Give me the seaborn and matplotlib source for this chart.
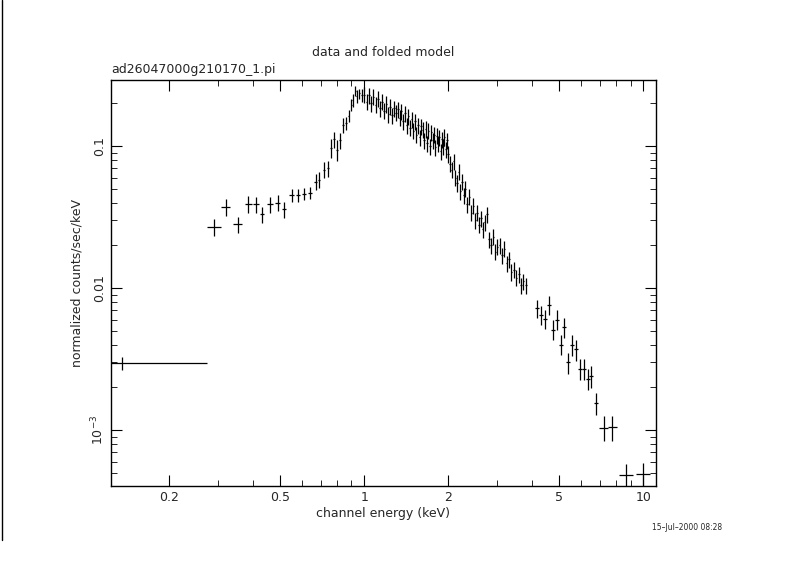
import matplotlib
matplotlib.use("Agg")
import matplotlib.pyplot as plt
import matplotlib.ticker as mticker
import seaborn as sns
import numpy as np

# sparse low-energy bins: energy, value, x half width, relative y error
low_e = [0.29, 0.32, 0.353, 0.385, 0.41, 0.43, 0.46, 0.49, 0.516, 0.55, 0.58, 0.61,
         0.64, 0.67, 0.69, 0.72, 0.74, 0.76, 0.78, 0.80, 0.82, 0.84, 0.86, 0.88,
         0.90, 0.91, 0.93, 0.94, 0.96, 0.98]
low_y = [0.0269, 0.0372, 0.0282, 0.0391, 0.039, 0.0332, 0.039, 0.040, 0.036, 0.045,
         0.045, 0.046, 0.047, 0.056, 0.058, 0.068, 0.070, 0.097, 0.112, 0.094, 0.110,
         0.140, 0.145, 0.163, 0.195, 0.21, 0.245, 0.225, 0.235, 0.228]
low_dx = [0.017, 0.012, 0.013, 0.012, 0.01, 0.008, 0.01, 0.01, 0.01, 0.01, 0.01,
          0.01, 0.01, 0.008, 0.007, 0.007, 0.006, 0.006, 0.006, 0.006, 0.005, 0.005,
          0.005, 0.005, 0.005, 0.005, 0.005, 0.005, 0.005, 0.005]
low_ry = [0.14, 0.14, 0.13, 0.13, 0.13, 0.13, 0.13, 0.13, 0.13, 0.1, 0.1, 0.1, 0.1,
          0.13, 0.13, 0.13, 0.13, 0.15, 0.13, 0.17, 0.13, 0.12, 0.1, 0.1, 0.1, 0.1,
          0.08, 0.1, 0.08, 0.1]

# dense middle bins
mid_e = [1.00, 1.02, 1.04, 1.06, 1.08, 1.10, 1.12, 1.14, 1.16, 1.18, 1.20, 1.22,
         1.24, 1.26, 1.28, 1.30, 1.32, 1.34, 1.36, 1.38, 1.40, 1.42, 1.44, 1.46,
         1.48, 1.50, 1.52, 1.54, 1.56, 1.58, 1.60, 1.62, 1.64, 1.66, 1.68, 1.70,
         1.72, 1.74, 1.76, 1.78, 1.80, 1.82, 1.84, 1.86, 1.88, 1.90, 1.92, 1.94,
         1.96, 1.98, 2.00, 2.03, 2.06, 2.09, 2.12, 2.15, 2.18, 2.21, 2.24, 2.27,
         2.30, 2.34, 2.38, 2.42, 2.46, 2.50, 2.54, 2.58, 2.62, 2.66, 2.70, 2.75,
         2.80, 2.85, 2.90, 2.95, 3.00, 3.06, 3.12, 3.18, 3.24, 3.30, 3.37, 3.44,
         3.51, 3.58, 3.65, 3.72, 3.80]
mid_y = [0.230, 0.205, 0.228, 0.200, 0.222, 0.195, 0.215, 0.185, 0.205, 0.178,
         0.198, 0.168, 0.190, 0.165, 0.185, 0.172, 0.182, 0.158, 0.176, 0.150,
         0.170, 0.140, 0.162, 0.135, 0.155, 0.128, 0.150, 0.120, 0.140, 0.115,
         0.138, 0.130, 0.110, 0.132, 0.105, 0.128, 0.100, 0.125, 0.110, 0.120,
         0.098, 0.118, 0.105, 0.115, 0.092, 0.112, 0.100, 0.116, 0.095, 0.110,
         0.088, 0.075, 0.068, 0.078, 0.060, 0.055, 0.066, 0.048, 0.056, 0.045,
         0.050, 0.039, 0.044, 0.034, 0.038, 0.030, 0.034, 0.028, 0.031, 0.026,
         0.029, 0.033, 0.022, 0.020, 0.023, 0.018, 0.0195, 0.020, 0.017, 0.019,
         0.015, 0.016, 0.013, 0.0135, 0.0118, 0.0125, 0.0105, 0.0112, 0.0105]

# sparse high-energy bins
high_e = [4.17, 4.3, 4.45, 4.6, 4.75, 4.9, 5.08, 5.2, 5.38, 5.55, 5.75, 5.95, 6.15,
          6.35, 6.5, 6.78, 7.2, 7.75, 8.7, 10.0]
high_y = [0.0072, 0.0065, 0.0061, 0.0076, 0.0051, 0.0060, 0.0040, 0.0053, 0.0030,
          0.0040, 0.0037, 0.0027, 0.0027, 0.0023, 0.0024, 0.00155, 0.00104, 0.00105,
          0.00048, 0.00049]
high_dx = [0.07, 0.07, 0.07, 0.07, 0.07, 0.08, 0.08, 0.08, 0.09, 0.09, 0.1, 0.1,
           0.1, 0.1, 0.1, 0.12, 0.25, 0.3, 0.5, 0.6]
high_ry = [0.14, 0.15, 0.15, 0.15, 0.16, 0.16, 0.16, 0.16, 0.17, 0.17, 0.17, 0.17,
           0.17, 0.17, 0.17, 0.18, 0.2, 0.2, 0.2, 0.2]

# first wide bin
first_e = 0.136
first_lo = 0.124
first_hi = 0.274
first_y = 0.00296

sns.set_style("ticks")
plt.rcParams['font.family'] = ['DejaVu Sans']
fig = plt.figure(figsize=(7.9, 5.82), dpi=100)
ax = fig.add_axes([111 / 790, 1 - 486 / 582, (656 - 111) / 790, (486 - 80) / 582])

kw = dict(fmt='none', ecolor='black', elinewidth=0.9, capsize=0)
ax.errorbar([first_e], [first_y], xerr=[[first_e - first_lo], [first_hi - first_e]],
            yerr=[[first_y * 0.1], [first_y * 0.1]], **kw)
e = np.array(low_e)
y = np.array(low_y)
ax.errorbar(e, y, xerr=np.array(low_dx), yerr=y * np.array(low_ry), **kw)
e = np.array(mid_e)
y = np.array(mid_y)
ax.errorbar(e, y, xerr=e * 0.006, yerr=y * 0.13, **kw)
e = np.array(high_e)
y = np.array(high_y)
ax.errorbar(e, y, xerr=np.array(high_dx), yerr=y * np.array(high_ry), **kw)

ax.set_xscale('log')
ax.set_yscale('log')
ax.set_xlim(0.124, 11.1)
ax.set_ylim(4.04e-4, 0.292)
ax.xaxis.set_major_locator(mticker.FixedLocator([0.2, 0.5, 1, 2, 5, 10]))
ax.xaxis.set_major_formatter(mticker.FixedFormatter(['0.2', '0.5', '1', '2', '5', '10']))
ax.xaxis.set_minor_locator(mticker.LogLocator(subs=np.arange(2, 10)))
ax.xaxis.set_minor_formatter(mticker.NullFormatter())
ax.yaxis.set_major_locator(mticker.FixedLocator([1e-3, 0.01, 0.1]))
ax.yaxis.set_major_formatter(mticker.FixedFormatter(['$10^{-3}$', '0.01', '0.1']))
ax.yaxis.set_minor_locator(mticker.LogLocator(subs=np.arange(2, 10)))
ax.yaxis.set_minor_formatter(mticker.NullFormatter())
ax.tick_params(which='both', direction='in', top=True, right=True, color='black', labelsize=9)
ax.tick_params(which='major', length=8)
ax.tick_params(which='minor', length=4)
for lab in ax.get_yticklabels():
    lab.set_rotation(90)
    lab.set_va('center')
for s in ax.spines.values():
    s.set_color('black')
    s.set_linewidth(1)

ax.set_xlabel('channel energy (keV)', fontsize=9, labelpad=2)
ax.set_ylabel('normalized counts/sec/keV', fontsize=9)
ax.set_title('data and folded model', fontsize=9, pad=17)
ax.text(0, 1.01, 'ad26047000g210170_1.pi', transform=ax.transAxes, fontsize=9, va='bottom')
fig.text(722 / 790, 1 - 530 / 582, '15\u2013Jul\u20132000 08:28', fontsize=5.5, ha='right')
fig.add_artist(plt.Line2D([1.5 / 790, 1.5 / 790], [1 - 540 / 582, 1], color='black', lw=1))

fig.savefig('out.png', dpi=100)
